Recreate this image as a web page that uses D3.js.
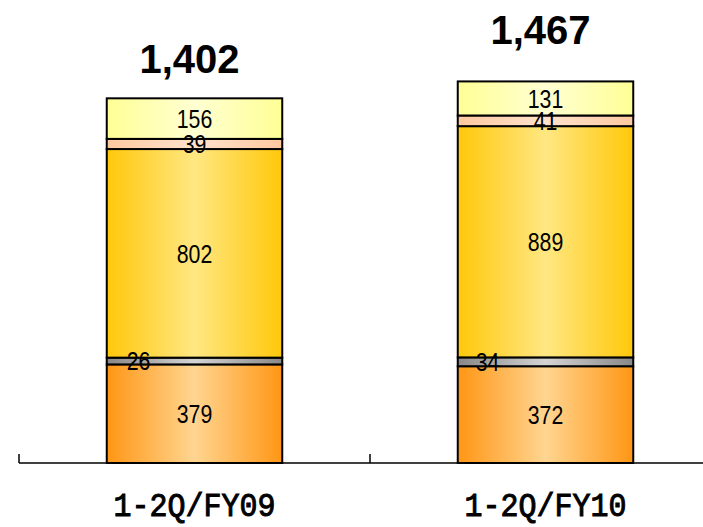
<!DOCTYPE html>
<html>
<head>
<meta charset="utf-8">
<script src="https://cdn.jsdelivr.net/npm/d3@7"></script>
<style>
body { margin: 0; background: #fff; }
</style>
</head>
<body>
<div id="chart"></div>
<script>
const categories = ["1-2Q/FY09", "1-2Q/FY10"];
const seriesNames = ["s1", "s2", "s3", "s4", "s5"];
const s1 = [379, 372];
const s2 = [26, 34];
const s3 = [802, 889];
const s4 = [39, 41];
const s5 = [156, 131];
const totals = ["1,402", "1,467"];

const colors = [
    {edge: "#ff9614", mid: "#ffd591"},
    {edge: "#888888", mid: "#d4d4d4"},
    {edge: "#ffc80a", mid: "#ffe782"},
    {edge: "#ffc8a0", mid: "#ffe2cc"},
    {edge: "#ffff96", mid: "#ffffd2"}
];

const W = 703, H = 527;
const svg = d3.select("#chart").append("svg")
    .attr("width", W).attr("height", H);

const defs = svg.append("defs");
colors.forEach((c, i) => {
    const g = defs.append("linearGradient").attr("id", "g" + i)
        .attr("x1", "0%").attr("x2", "100%").attr("y1", "0%").attr("y2", "0%");
    g.append("stop").attr("offset", "0%").attr("stop-color", c.edge);
    g.append("stop").attr("offset", "50%").attr("stop-color", c.mid);
    g.append("stop").attr("offset", "100%").attr("stop-color", c.edge);
});

const x = d3.scaleBand().domain(categories).range([19, 721]).paddingInner(0);
const y = d3.scaleLinear().domain([0, 1780]).range([463, 0]);
const barW = x.bandwidth() * 0.5;

const rows = categories.map((c, i) => {
    const r = {cat: c};
    r.s1 = s1[i]; r.s2 = s2[i]; r.s3 = s3[i]; r.s4 = s4[i]; r.s5 = s5[i];
    return r;
});
const stacked = d3.stack().keys(seriesNames)(rows);

const layers = svg.selectAll(".layer")
    .data(stacked)
    .enter().append("g")
    .attr("class", "layer")
    .attr("fill", (d, i) => "url(#g" + i + ")");

layers.selectAll("rect")
    .data(d => d)
    .enter().append("rect")
    .attr("x", d => x(d.data.cat) + (x.bandwidth() - barW) / 2)
    .attr("y", d => y(d[1]))
    .attr("width", barW)
    .attr("height", d => y(d[0]) - y(d[1]))
    .attr("stroke", "#000")
    .attr("stroke-width", 2);

// segment labels, drawn on top of all rects
const labelShift = {s2: [-56, -58]};
const labels = svg.append("g");
stacked.forEach(layer => {
    labels.selectAll(null)
        .data(layer)
        .enter().append("text")
        .attr("transform", (d, i) => {
            const cx = x(d.data.cat) + x.bandwidth() / 2 + (labelShift[layer.key] ? labelShift[layer.key][i] : 0);
            const cy = (y(d[0]) + y(d[1])) / 2;
            return "translate(" + cx + "," + cy + ") scale(0.82,1)";
        })
        .attr("dy", "0.36em")
        .attr("text-anchor", "middle")
        .attr("font-family", "'Liberation Sans', Arial, sans-serif")
        .attr("font-size", 26)
        .attr("fill", "#000")
        .text(d => d.data[layer.key]);
});

// totals
const totalShift = [-25, -37];
svg.selectAll(".total")
    .data(categories)
    .enter().append("text")
    .attr("class", "total")
    .attr("x", d => x(d) + x.bandwidth() / 2 - 5)
    .attr("y", (d, i) => y(stacked[4][i][1]) + totalShift[i])
    .attr("text-anchor", "middle")
    .attr("font-family", "'Liberation Sans', Arial, sans-serif")
    .attr("font-weight", "bold")
    .attr("font-size", 40)
    .text((d, i) => totals[i]);

// axis
svg.append("line")
    .attr("x1", 19).attr("x2", W)
    .attr("y1", y(0)).attr("y2", y(0))
    .attr("stroke", "#000").attr("stroke-width", 1.5);
svg.selectAll(".tick")
    .data(categories)
    .enter().append("line")
    .attr("x1", d => x(d)).attr("x2", d => x(d))
    .attr("y1", y(0) - 9).attr("y2", y(0))
    .attr("stroke", "#000").attr("stroke-width", 1.5);

svg.selectAll(".cat")
    .data(categories)
    .enter().append("text")
    .attr("transform", d => "translate(" + (x(d) + x.bandwidth() / 2) + ",516) scale(1,1.12)")
    .attr("text-anchor", "middle")
    .attr("font-family", "'Liberation Mono', 'DejaVu Sans Mono', monospace")
    .attr("font-size", 30)
    .attr("stroke", "#000")
    .attr("stroke-width", 0.9)
    .text(d => d);
</script>
</body>
</html>
